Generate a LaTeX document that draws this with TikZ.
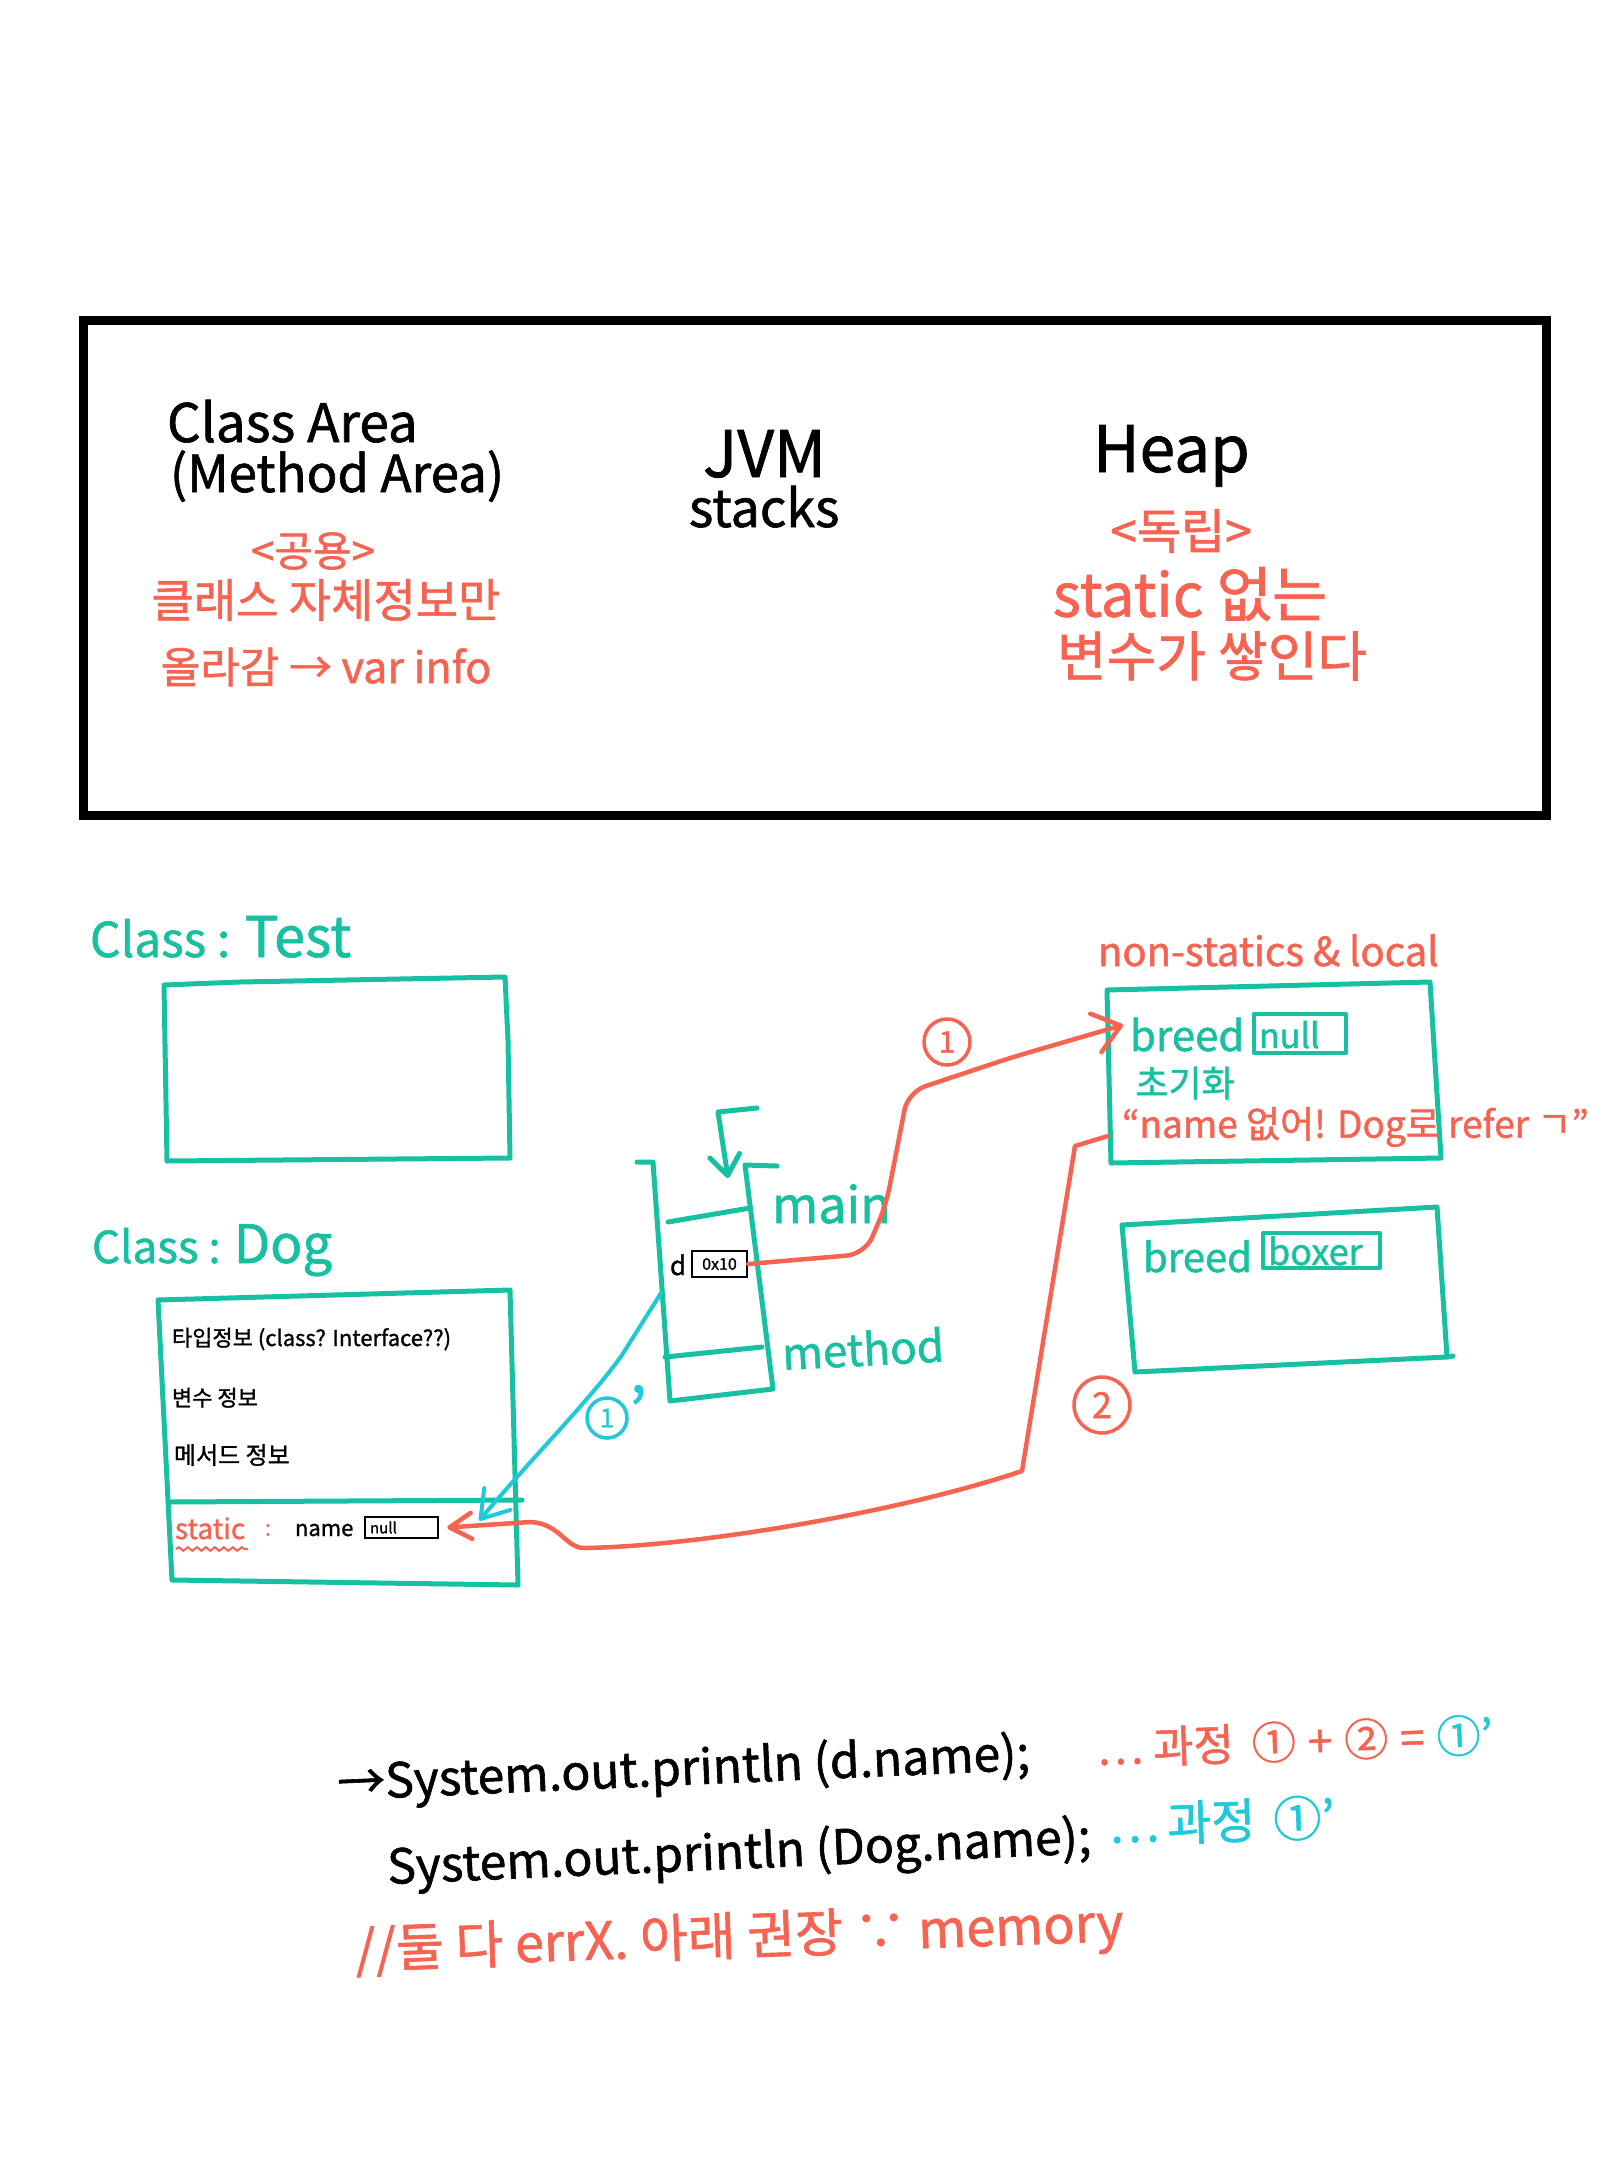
\documentclass[tikz,border=0pt]{standalone}
\usepackage{fontspec}
\setmainfont{Noto Sans CJK KR}[FakeBold=1.2]
\usetikzlibrary{arrows.meta,decorations.pathmorphing,calc}
\definecolor{tl}{RGB}{22,192,160}
\definecolor{rd}{RGB}{246,99,80}
\definecolor{cy}{RGB}{30,202,218}
\newcommand\fsz[1]{\fontsize{#1}{#1}\selectfont}
\tikzset{
  txt/.style={inner sep=0pt, outer sep=0pt},
  tline/.style={draw=tl, line width=5pt, line cap=round, line join=round},
  rline/.style={draw=rd, line width=4.5pt, line cap=round, line join=round},
  cline/.style={draw=cy, line width=4pt, line cap=round, line join=round},
  circ/.style={circle, line width=3.5pt, inner sep=0pt},
}
\begin{document}
\begin{tikzpicture}[x=1pt,y=-1pt]
\useasboundingbox (0,0) rectangle (1620,2160);
\fill[white] (0,0) rectangle (1620,2160);

% ---------- top frame ----------
\draw[line width=9pt] (83,320) rectangle (1546,815);
\node[txt,anchor=base west,font=\fsz{53}] (classarea) at (167,442) {Class Area};
\node[txt,anchor=base west,font=\fsz{51}] (methodarea) at (170,492) {(Method Area)};
\node[txt,text=rd,font=\fsz{42}] (gongyong) at (313,551) {<공용>};
\node[txt,text=rd,font=\fsz{46}] (ca1) at (326,600) {클래스 자체정보만};
\node[txt,text=rd,font=\fsz{43}] (ca2) at (326,667) {올라감 → var info};
\node[txt,anchor=base west,font=\fsz{64}] (jvm) at (703,477) {JVM};
\node[txt,anchor=base west,font=\fsz{52}] (stacks) at (689,527) {stacks};
\node[txt,anchor=base west,font=\fsz{64}] (heap) at (1093,472) {Heap};
\node[txt,text=rd,font=\fsz{48}] (dokrip) at (1181,531) {<독립>};
\node[txt,text=rd,font=\fsz{60}] (heapt1) at (1190,594) {static 없는};
\node[txt,text=rd,font=\fsz{54}] (heapt2) at (1212,656) {변수가 쌓인다};

% ---------- class area ----------
\node[txt,anchor=base west,text=tl] (ctest) at (90,957) {\fsz{48}Class : \fsz{56}Test};
\draw[tline] (164,985) -- (240,982) -- (505,977) -- (508,1040) -- (510,1158) -- (167,1161) -- cycle;

\node[txt,anchor=base west,text=tl] (cdog) at (92,1263) {\fsz{44}Class : \fsz{53}Dog};
\draw[tline] (158,1300) -- (510,1290) -- (518,1585) -- (172,1580) -- cycle;
\draw[tline] (168,1502) -- (522,1500);
\node[txt,anchor=base west,font=\fsz{22}] (typeinfo) at (172,1346) {타입정보 (class? Interface??)};
\node[txt,anchor=base west,font=\fsz{22}] (varinfo) at (172,1406) {변수 정보};
\node[txt,anchor=base west,font=\fsz{24}] (methinfo) at (174,1464) {메서드 정보};
\node[txt,anchor=base west,font=\fsz{28},text=rd] (static) at (175,1539) {static};
\draw[rd,line width=2pt,decorate,decoration={snake,amplitude=1.8pt,segment length=9pt}] (176,1549) -- (248,1549);
\node[txt,font=\fsz{22},text=rd] (colon) at (268,1530) {:};
\node[txt,anchor=base west,font=\fsz{22}] (sname) at (295,1536) {name};
\node[draw,line width=2.5pt,minimum width=73pt,minimum height=21pt,inner sep=0pt] (snull) at (401.5,1527.5) {};
\node[txt,anchor=west,font=\fsz{15}] (snulltxt) at (370,1527.5) {null};

% ---------- JVM stack ----------
\draw[tline] (637,1162) -- (653,1162) -- (670,1401) -- (773,1389) -- (745,1165) -- (777,1166);
\draw[tline] (668,1222) -- (750,1208);
\draw[tline] (665,1357) -- (762,1347);
\draw[tline,-{Straight Barb[round,length=20pt,width=30pt]}] (757,1108) -- (718,1112) -- (728,1178);
\node[txt,anchor=base west,font=\fsz{50},text=tl] (main) at (772,1223) {main};
\node[txt,anchor=base west,font=\fsz{44},text=tl,rotate=3] (method) at (783,1370) {method};
\node[txt,anchor=base west,font=\fsz{26}] (dvar) at (670,1275) {d};
\node[draw,line width=2.5pt,minimum width=55pt,minimum height=26pt,inner sep=0pt,font=\fsz{16}] (ptr) at (719.5,1264) {0x10};
\coordinate (stackL) at (661,1293);

% ---------- heap ----------
\node[txt,anchor=base west,font=\fsz{40},text=rd] (nonst) at (1098,966) {non-statics \& local};
\draw[tline] (1107,990) -- (1430,982) -- (1441,1158) -- (1111,1163) -- cycle;
\node[txt,anchor=base west,font=\fsz{42},text=tl] (breed1) at (1130,1051) {breed};
\draw[tline,line width=4pt] (1254,1014) rectangle (1346,1053);
\node[txt,anchor=base west,font=\fsz{34},text=tl] (null1) at (1259,1048) {null};
\node[txt,font=\fsz{36},text=tl] (init) at (1185,1083) {초기화};
\node[txt,anchor=west,font=\fsz{37},text=rd] (namemsg) at (1122,1127) {“name 없어! Dog로 refer ㄱ”};
\coordinate (h1s) at (1108,1136);

\draw[tline] (1122,1225) -- (1437,1207) -- (1447,1357) -- (1135,1372) -- cycle;
\draw[tline] (1447,1357) -- (1453,1356);
\node[txt,anchor=base west,font=\fsz{40},text=tl] (breed2) at (1143,1272) {breed};
\draw[tline,line width=4pt] (1263,1233) rectangle (1380,1268);
\node[txt,anchor=base west,font=\fsz{36},text=tl] (boxer) at (1268,1265) {boxer};

% ---------- step labels ----------
\node[circ,draw=rd,minimum size=46pt,text=rd,font=\fsz{30}] (c1) at (947,1042) {1};
\node[circ,draw=rd,minimum size=56pt,text=rd,font=\fsz{36}] (c2) at (1102,1405) {2};
\node[circ,draw=cy,minimum size=40pt,text=cy,font=\fsz{26}] (c1p) at (607,1418) {1};
\node[txt,text=cy,font=\fsz{64}] (c1pp) at (638,1410) {'};

% ---------- connectors ----------
\coordinate (b1tip) at ($(breed1.base west)+(-7,-26)$);
\draw[rline,rounded corners=18pt,-{Straight Barb[round,length=26pt,width=40pt]}]
  (ptr.east) -- (865,1254) -- (886,1205) -- (908,1092) -- (1013,1057) -- (b1tip);
\draw[rline,-{Straight Barb[round,length=22pt,width=26pt]}]
  (h1s) -- (1075,1146) -- (1022,1471) .. controls (900,1512) and (700,1546) .. (585,1548)
  .. controls (566,1549) and (560,1523) .. (530,1522) -- ($(snull.east)+(8,0)$);
\draw[cline,-{Straight Barb[round,length=26pt,width=34pt]}]
  (stackL) -- (622,1355) .. controls (590,1400) and (530,1460) .. ($(snull.east)+(40,-7)$);

% ---------- code lines ----------
\node[txt,anchor=base west,font=\fsz{48},rotate=2.5] (l1) at (338,1800) {→System.out.println (d.name);};
\node[txt,anchor=base west,font=\fsz{44},rotate=2,text=rd] (l1r) at (1097,1765) {…\hspace{10pt}과정\hspace{18pt}①\hspace{12pt}+\hspace{12pt}②\hspace{12pt}=\hspace{12pt}\textcolor{cy}{①'}};
\node[txt,anchor=base west,font=\fsz{48},rotate=2.5] (l2) at (388,1884) {System.out.println (Dog.name);};
\node[txt,anchor=base west,font=\fsz{48},rotate=2,text=cy] (l2r) at (1109,1843) {…\hspace{8pt}과정\hspace{18pt}①'};
\node[txt,anchor=base west,font=\fsz{52},rotate=2,text=rd] (l3) at (356,1968) {//둘 다 errX. 아래 권장 ∵ memory};
\end{tikzpicture}
\end{document}
